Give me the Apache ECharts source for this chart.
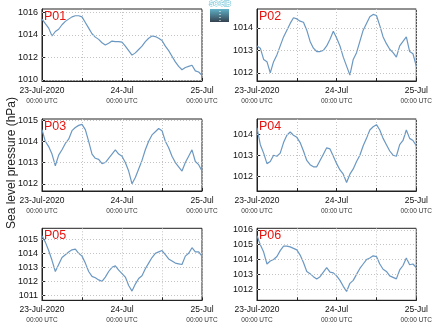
<!DOCTYPE html>
<html><head><meta charset="utf-8">
<script src="https://cdn.jsdelivr.net/npm/echarts@6/dist/echarts.min.js"></script>
<style>html,body{margin:0;padding:0;background:#fff}#c{width:435px;height:327px}</style>
</head><body><div id="c"></div>
<script>
// ---- data (hourly, 23-Jul-2020 00:00 UTC to 25-Jul-2020 00:00 UTC) ----
const dayLabels = ['23-Jul-2020', '24-Jul', '25-Jul'];
const subLabel = '00:00 UTC';
const panelNames = ['P01', 'P02', 'P03', 'P04', 'P05', 'P06'];
const yAxisTitle = 'Sea level pressure (hPa)';

const p01 = [1015.4,1015.0,1014.6,1013.9,1014.3,1014.5,1014.9,1015.2,1015.4,1015.6,1015.7,1015.7,1015.6,1015.1,1014.6,1014.1,1013.8,1013.6,1013.3,1013.1,1013.25,1013.45,1013.4,1013.4,1013.35,1013.0,1012.6,1012.2,1012.4,1012.7,1013.0,1013.4,1013.7,1013.9,1013.85,1013.7,1013.5,1013.0,1012.6,1012.1,1011.6,1011.2,1010.9,1011.1,1011.2,1011.3,1010.8,1010.7,1010.4];
const p02 = [1013.2,1013.1,1012.6,1012.5,1012.0,1012.5,1012.8,1013.2,1013.6,1013.9,1014.2,1014.45,1014.4,1014.3,1014.25,1013.9,1013.4,1013.1,1012.95,1012.95,1013.0,1013.2,1013.5,1013.85,1013.55,1013.2,1012.7,1012.3,1011.9,1012.6,1012.9,1013.4,1013.9,1014.2,1014.5,1014.6,1014.55,1014.1,1013.6,1013.3,1013.05,1012.9,1012.7,1013.2,1013.4,1013.6,1012.95,1012.85,1012.3];
const p03 = [1014.55,1014.0,1013.75,1013.4,1012.85,1013.35,1013.6,1013.9,1014.1,1014.5,1014.65,1014.75,1014.8,1014.55,1014.0,1013.4,1013.2,1013.15,1012.95,1013.0,1013.2,1013.4,1013.6,1013.4,1013.3,1013.0,1012.6,1012.0,1012.3,1012.7,1013.1,1013.6,1014.0,1014.3,1014.45,1014.6,1014.5,1014.0,1013.7,1013.3,1013.0,1012.8,1012.6,1013.0,1013.3,1013.6,1013.05,1012.9,1012.6];
const p04 = [1014.3,1013.5,1013.1,1012.6,1012.7,1013.0,1012.95,1013.1,1013.6,1013.95,1014.1,1013.95,1013.85,1013.6,1013.2,1012.75,1012.55,1012.45,1012.45,1012.75,1013.05,1013.35,1013.3,1012.95,1012.6,1012.3,1012.1,1011.7,1012.1,1012.35,1012.7,1013.0,1013.45,1013.8,1014.2,1014.35,1014.45,1014.2,1013.8,1013.5,1013.2,1013.0,1012.95,1013.5,1013.7,1014.2,1013.8,1013.7,1013.45];
const p05 = [1015.25,1014.8,1014.2,1013.5,1012.7,1013.2,1013.7,1013.9,1014.1,1014.25,1014.3,1014.0,1013.8,1013.3,1012.7,1012.35,1012.25,1012.1,1012.0,1012.3,1012.7,1013.0,1013.1,1012.8,1012.55,1012.3,1011.7,1011.3,1011.8,1012.2,1012.4,1012.9,1013.3,1013.7,1014.0,1014.1,1014.2,1013.9,1013.6,1013.45,1013.3,1013.25,1013.2,1013.8,1014.0,1014.4,1014.1,1014.1,1013.8];
const p06 = [1015.6,1015.0,1014.5,1013.7,1013.9,1014.0,1014.2,1014.6,1014.9,1014.9,1014.85,1014.75,1014.65,1014.3,1013.8,1013.2,1013.05,1012.85,1012.7,1012.85,1013.15,1013.45,1013.15,1013.1,1012.9,1012.6,1012.2,1011.85,1012.4,1012.6,1013.0,1013.4,1013.7,1014.0,1014.1,1014.25,1014.2,1013.7,1013.35,1013.2,1012.9,1012.8,1012.7,1013.3,1013.6,1014.1,1013.65,1013.7,1013.45];

const yTicks = [
  [1010, 1012, 1014, 1016],
  [1012, 1013, 1014],
  [1012, 1013, 1014, 1015],
  [1012, 1013, 1014],
  [1011, 1012, 1013, 1014, 1015],
  [1012, 1013, 1014, 1015, 1016]
];
const yMin = [1009.9, 1011.64, 1011.66, 1011.3, 1010.64, 1011.26];
const yMax = [1016.3, 1014.84, 1015.05, 1014.72, 1015.79, 1016.1];

// time categories (hourly)
const times = [];
for (let h = 0; h <= 48; h++) {
  const d = new Date(Date.UTC(2020, 6, 23, h));
  times.push(d.toISOString().slice(0, 16).replace('T', ' '));
}
const series = [p01, p02, p03, p04, p05, p06];

// ---- layout ----
const FONT = 'Liberation Sans, Arial, sans-serif';
const lefts = [42, 257];
const tops = [9, 119, 228.3];
const W = 160, H = 72;

const grids = [], xAxes = [], yAxes = [], ser = [], graphics = [];
series.forEach((vals, i) => {
  const col = i % 2, row = Math.floor(i / 2);
  const L = lefts[col], T = tops[row];
  grids.push({ left: L, top: T, width: W, height: H, show: true, borderColor: '#222', borderWidth: 1, backgroundColor: 'transparent' });
  xAxes.push({
    type: 'category', gridIndex: i, data: times, boundaryGap: false,
    axisLine: { show: true, lineStyle: { color: '#222', width: 1 } },
    axisTick: { show: true, inside: true, length: 3, interval: (idx) => idx % 12 === 0, lineStyle: { color: '#222' } },
    splitLine: { show: true, interval: (idx) => idx % 12 === 0, lineStyle: { color: '#c4c4c4', type: [1, 2], width: 1 } },
    axisLabel: {
      interval: (idx) => idx % 24 === 0, margin: 4, fontFamily: FONT,
      formatter: (v, idx) => '{a|' + dayLabels[idx / 24] + '}\n{b|' + subLabel + '}',
      rich: {
        a: { fontSize: 8.5, color: '#111', fontFamily: FONT, lineHeight: 11 },
        b: { fontSize: 6.5, color: '#333', fontFamily: FONT, lineHeight: 10 }
      }
    }
  });
  yAxes.push({
    type: 'value', gridIndex: i, min: yMin[i], max: yMax[i],
    axisLine: { show: true, lineStyle: { color: '#222', width: 1 } },
    axisTick: { show: true, inside: true, length: 3, customValues: yTicks[i], lineStyle: { color: '#222' } },
    splitLine: { show: false },
    axisLabel: { customValues: yTicks[i], margin: 4, fontSize: 9, color: '#111', fontFamily: FONT, formatter: (v) => String(Math.round(v)) }
  });
  ser.push({
    type: 'line', xAxisIndex: i, yAxisIndex: i, data: vals, showSymbol: false, symbol: 'none',
    lineStyle: { color: '#6b98c2', width: 1.2 }, animation: false, z: 3,
    markLine: {
      silent: true, symbol: 'none', label: { show: false }, animation: false,
      lineStyle: { color: '#c4c4c4', type: [1, 2], width: 1 },
      data: yTicks[i].map(v => ({ yAxis: v }))
    }
  });
  graphics.push({
    type: 'text', left: L + 2, top: T + 1, z: 10,
    style: { text: panelNames[i], fill: '#e8140f', font: '12.5px ' + FONT }
  });
});

// y axis title
graphics.push({
  type: 'text', x: 12, y: 163, rotation: Math.PI / 2, z: 10,
  style: { text: yAxisTitle, fill: '#222', font: '12px ' + FONT, align: 'center', verticalAlign: 'middle' }
});
// logo
graphics.push({
  type: 'text', x: 220, y: 4, z: 10,
  style: { text: 'SOCIB', fill: '#ffffff', stroke: '#4fb6cf', lineWidth: 0.8, font: 'bold 7px ' + FONT, align: 'center', verticalAlign: 'middle' }
});
graphics.push({
  type: 'rect', shape: { x: 210, y: 9, width: 19, height: 13 }, z: 10,
  style: { fill: new echarts.graphic.LinearGradient(0, 0, 0, 1, [{ offset: 0, color: '#5fb0c6' }, { offset: 1, color: '#34424f' }]) }
});
graphics.push({
  type: 'line', shape: { x1: 220, y1: 11, x2: 220, y2: 21 }, z: 11,
  style: { stroke: '#ffffff', lineWidth: 1, lineDash: [1, 2] }
});

const chart = echarts.init(document.getElementById('c'), null, { renderer: 'canvas' });
chart.setOption({
  animation: false,
  backgroundColor: '#fff',
  grid: grids, xAxis: xAxes, yAxis: yAxes, series: ser, graphic: graphics
});
</script></body></html>
